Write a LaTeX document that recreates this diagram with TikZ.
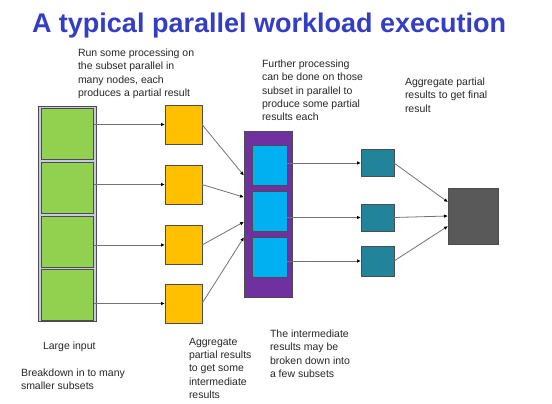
\documentclass[tikz,border=0pt]{standalone}
\usepackage{fontspec}
\setmainfont{Liberation Sans}
\usetikzlibrary{arrows.meta}
\definecolor{titleblue}{RGB}{52,62,196}
\definecolor{inputgreen}{RGB}{146,208,80}
\definecolor{frameblue}{RGB}{200,200,235}
\definecolor{mapyellow}{RGB}{255,192,0}
\definecolor{poolpurple}{RGB}{112,48,160}
\definecolor{partblue}{RGB}{0,176,240}
\definecolor{redteal}{RGB}{33,132,155}
\definecolor{finalgray}{RGB}{89,89,89}
\begin{document}
\begin{tikzpicture}[x=1pt,y=-1pt,inner sep=0pt,outer sep=0pt,
cell/.style={draw=black!70,fill=inputgreen,minimum width=52pt,minimum height=51pt,line width=0.8pt},
mapbox/.style={draw=black!70,fill=mapyellow,minimum width=37pt,minimum height=39pt,line width=0.6pt},
partbox/.style={draw=black!70,fill=partblue,minimum width=35pt,minimum height=40pt,line width=0.6pt},
redbox/.style={draw=black!70,fill=redteal,minimum width=33pt,minimum height=27pt,line width=0.6pt},
note/.style={anchor=north west,align=left,text=black!85,font=\fontsize{10.5}{13.3}\selectfont},
conn/.style={draw=black!55,line width=0.8pt,-{Latex[length=4pt,width=3.5pt,color=black]}}]
\useasboundingbox (0,0) rectangle (552,404);
\node[anchor=base west,text=titleblue,font=\fontsize{27}{30}\bfseries\selectfont] (title) at (32,33) {A typical parallel workload execution};

% large input split in four
\draw (67.5,213.5) node[draw=black!70,fill=frameblue,minimum width=58pt,minimum height=215pt,line width=0.8pt] (input) {};
\draw (67.5,133.5) node[cell] (g1) {};
\draw (67.5,187.5) node[cell] (g2) {};
\draw (67.5,241.5) node[cell] (g3) {};
\draw (67.5,294.5) node[cell] (g4) {};

% map step
\draw (183.5,124.5) node[mapbox] (y1) {};
\draw (183.5,184.5) node[mapbox] (y2) {};
\draw (183.5,245) node[mapbox] (y3) {};
\draw (183.5,303.5) node[mapbox] (y4) {};

% intermediate results
\draw (268,214) node[draw=black!70,fill=poolpurple,minimum width=48pt,minimum height=166pt,line width=0.6pt] (pool) {};
\draw (269.5,165) node[partbox] (b1) {};
\draw (269.5,211) node[partbox] (b2) {};
\draw (269.5,257) node[partbox] (b3) {};

% second step
\draw (377.5,163) node[redbox] (t1) {};
\draw (377.5,217.5) node[redbox] (t2) {};
\draw (377.5,261) node[redbox,minimum height=30pt] (t3) {};

% final result
\draw (473,216) node[draw=black!70,fill=finalgray,minimum width=50pt,minimum height=56pt,line width=0.6pt] (final) {};

\draw[conn] (g1.east |- y1.west) -- (y1.west);
\draw[conn] (g2.east |- y2.west) -- (y2.west);
\draw[conn] (g3.east |- y3.west) -- (y3.west);
\draw[conn] (g4.east |- y4.west) -- (y4.west);
\draw[conn] (y1.east) -- (pool.122);
\draw[conn] (y2.east) -- (pool.145);
\draw[conn] (y3.east) -- (pool.198);
\draw[conn] (y4.east) -- (pool.224);
\draw[conn] (b1.east |- t1.west) -- (t1.west);
\draw[conn] (b2.east |- t2.west) -- (t2.west);
\draw[conn] (b3.east |- t3.west) -- (t3.west);
\draw[conn] (t1.east) -- (final.151);
\draw[conn] (t2.east) -- (final.west);
\draw[conn] (t3.east) -- (final.202);

\node[note] (runnote) at (78,49) {Run some processing on\\the subset parallel in\\many nodes, each\\produces a partial result};
\node[note] (furthernote) at (262,60) {Further processing\\can be done on those\\subset in parallel to\\produce some partial\\results each};
\node[note] (finalnote) at (405,78) {Aggregate partial\\results to get final\\result};
\node[note] (inputnote) at (43,342) {Large input};
\node[note] (splitnote) at (21,369) {Breakdown in to many\\smaller subsets};
\node[note] (aggnote) at (189,338) {Aggregate\\partial results\\to get some\\intermediate\\results};
\node[note] (internote) at (270,330) {The intermediate\\results may be\\broken down into\\a few subsets};
\end{tikzpicture}
\end{document}
